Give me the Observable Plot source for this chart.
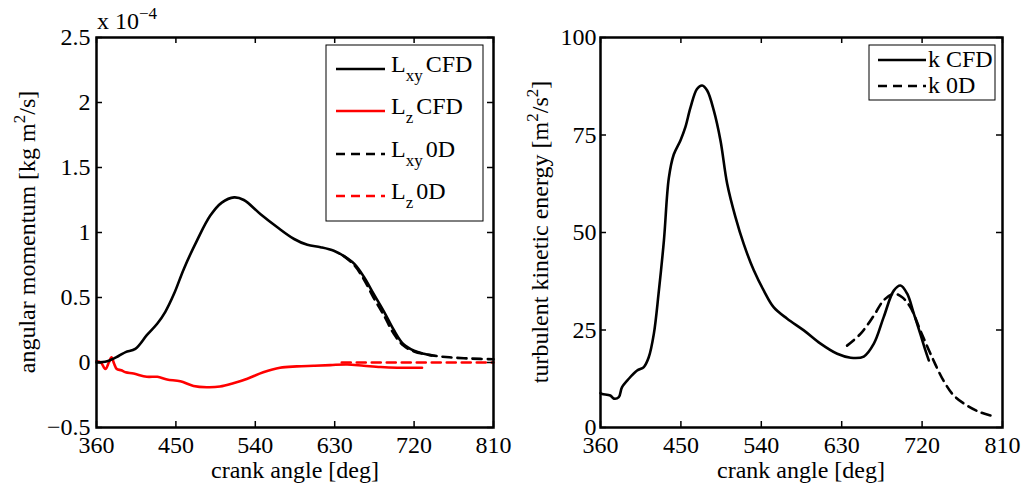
<!DOCTYPE html>
<html><head><meta charset="utf-8">
<script src="https://cdn.jsdelivr.net/npm/d3@7"></script>
<script src="https://cdn.jsdelivr.net/npm/@observablehq/plot@0.6"></script>
<style>
html,body{margin:0;padding:0;background:#fff;}
#wrap{position:relative;width:1026px;height:489px;overflow:hidden;background:#fff;}
#wrap > svg{position:absolute;top:0;}
</style></head><body><div id="wrap"></div>
<script>
// ---------- data (left panel values in units of 1e-4 kg m^2/s) ----------
const lxyCfdAngle = [360, 372, 385, 393, 404, 417, 429, 438, 448, 459, 474, 489, 502, 516, 527, 546, 565, 584, 599, 614, 629, 640, 652, 663, 674, 686, 697, 708, 720, 731, 740];
const lxyCfdValue = [0, 0.01, 0.05, 0.08, 0.105, 0.21, 0.30, 0.39, 0.53, 0.72, 0.94, 1.13, 1.23, 1.27, 1.25, 1.14, 1.04, 0.95, 0.905, 0.887, 0.86, 0.82, 0.76, 0.66, 0.53, 0.39, 0.25, 0.14, 0.09, 0.067, 0.055];
const lzCfdAngle = [360, 365, 370, 374, 377, 380, 383, 388, 393, 402, 417, 429, 440, 455, 470, 485, 500, 515, 531, 549, 568, 587, 606, 625, 644, 663, 682, 701, 729];
const lzCfdValue = [0.01, 0.0, -0.05, 0.0, 0.04, -0.01, -0.05, -0.06, -0.075, -0.085, -0.11, -0.11, -0.13, -0.145, -0.18, -0.19, -0.185, -0.16, -0.125, -0.075, -0.04, -0.03, -0.025, -0.02, -0.015, -0.025, -0.035, -0.04, -0.04];
const lxy0dAngle = [640, 652, 663, 674, 686, 697, 708, 720, 740, 760, 785, 810];
const lxy0dValue = [0.82, 0.75, 0.64, 0.50, 0.36, 0.22, 0.13, 0.085, 0.055, 0.04, 0.03, 0.025];
const lz0dAngle = [638, 810];
const lz0dValue = [0, 0];

// ---------- data (right panel, m^2/s^2) ----------
const kCfdAngle = [360, 362, 371, 375, 380.5, 384, 391.7, 401, 408.5, 414, 419.7, 425, 431, 436.5, 442, 449.5, 455, 460.7, 468, 473.8, 479.4, 486.8, 494.3, 501.8, 511, 520.4, 531.6, 542.8, 554, 569, 587.6, 606.3, 625, 640, 654.7, 666, 677, 688.3, 695.8, 703.3, 710.7, 718, 723.8, 727.5];
const kCfdValue = [8.8, 8.6, 8.2, 7.4, 7.8, 10.3, 12.5, 14.6, 15.5, 18, 24, 34.3, 48, 64, 70, 73.6, 77, 82, 86.8, 87.7, 86.4, 81.3, 73.6, 62.5, 54, 47, 40.3, 35.1, 30.8, 27.9, 24.9, 21.5, 18.9, 17.9, 18.2, 21.5, 28.3, 35.1, 36.4, 34.3, 29.2, 24, 19.7, 17.2];
const k0dAngle = [636, 651, 666, 677, 688.3, 697.7, 707, 718, 729.4, 744, 755.5, 770.5, 785, 798];
const k0dValue = [21, 24, 28.7, 32.6, 34.3, 33.4, 30.8, 24.9, 18.9, 12, 8.2, 5.6, 3.9, 3.0];

// ---------- ticks ----------
const xTicks = [360, 450, 540, 630, 720, 810];
const yTicksLeft = [-0.5, 0, 0.5, 1, 1.5, 2, 2.5];
const yTicksRight = [0, 25, 50, 75, 100];

const FONT = '"Liberation Serif", "Times New Roman", serif';
const FS = 24, FS_SMALL = 17;
const H = 489, MT = 37, MB = 62;
const innerH = H - MT - MB;

const rows = (xs, ys) => xs.map((x, i) => ({x, y: ys[i]}));
const fmt = d => (d < 0 ? "\u2212" : "") + Math.abs(d);

function panel({width, marginLeft, marginRight, yDomain, yTicks, series, tickPad}) {
  const innerW = width - marginLeft - marginRight;
  const marks = [];
  for (const s of series) {
    marks.push(Plot.line(rows(s.x, s.y), {x: "x", y: "y", stroke: s.color, strokeWidth: 2.6,
      strokeDasharray: s.dash ? "9,6" : null, curve: "catmull-rom"}));
  }
  marks.push(
    Plot.tickX(xTicks, {x: d => d, insetTop: innerH - 6, stroke: "black", strokeWidth: 1.5}),
    Plot.tickX(xTicks, {x: d => d, insetBottom: innerH - 6, stroke: "black", strokeWidth: 1.5}),
    Plot.tickY(yTicks, {y: d => d, insetRight: innerW - 6, stroke: "black", strokeWidth: 1.5}),
    Plot.tickY(yTicks, {y: d => d, insetLeft: innerW - 6, stroke: "black", strokeWidth: 1.5}),
    Plot.frame({stroke: "black", strokeWidth: 2.5}),
    Plot.axisX(xTicks, {tickSize: 0, tickPadding: 8, label: null, tickFormat: d => String(d)}),
    Plot.axisY(yTicks, {tickSize: 0, tickPadding: tickPad, label: null, tickFormat: fmt})
  );
  return Plot.plot({
    width, height: H, marginLeft, marginRight, marginTop: MT, marginBottom: MB,
    x: {domain: [360, 810]}, y: {domain: yDomain},
    style: {fontFamily: FONT, fontSize: FS + "px", background: "white", color: "black", overflow: "visible"},
    marks
  });
}

const wrap = document.getElementById("wrap");

// ---------- left ----------
const left = panel({
  width: 520, marginLeft: 96, marginRight: 27, yDomain: [-0.5, 2.5], yTicks: yTicksLeft, tickPad: 6,
  series: [
    {x: lz0dAngle, y: lz0dValue, color: "#ff0000", dash: true},
    {x: lxy0dAngle, y: lxy0dValue, color: "black", dash: true},
    {x: lzCfdAngle, y: lzCfdValue, color: "#ff0000"},
    {x: lxyCfdAngle, y: lxyCfdValue, color: "black"}
  ]
});
left.style.left = "0px";
wrap.appendChild(left);

// ---------- right ----------
const right = panel({
  width: 506, marginLeft: 80, marginRight: 24, yDomain: [0, 100], yTicks: yTicksRight, tickPad: 4,
  series: [
    {x: k0dAngle, y: k0dValue, color: "black", dash: true},
    {x: kCfdAngle, y: kCfdValue, color: "black"}
  ]
});
right.style.left = "520px";
wrap.appendChild(right);

// ---------- text annotations ----------
function richText(g, x, y, parts, opts = {}) {
  const t = g.append("text").attr("x", x).attr("y", y)
    .attr("font-family", FONT).attr("font-size", FS).attr("fill", "black")
    .attr("text-anchor", opts.anchor || "start");
  if (opts.rotate) t.attr("transform", `rotate(${opts.rotate},${x},${y})`);
  let shift = 0;
  for (const p of parts) {
    const s = t.append("tspan").text(p.t);
    const target = p.sup ? -10 : p.sub ? 9 : 0;
    if (target !== shift) { s.attr("dy", target - shift); shift = target; }
    if (p.sup || p.sub) s.attr("font-size", FS_SMALL);
    if (p.dx) s.attr("dx", p.dx);
  }
  return t;
}

const gl = d3.select(left).append("g");
richText(gl, 295, 478, [{t: "crank angle [deg]"}], {anchor: "middle"});
richText(gl, 35, 232, [{t: "angular momentum [kg m"}, {t: "2", sup: true}, {t: "/s]"}], {anchor: "middle", rotate: -90});
richText(gl, 97, 29, [{t: "x 10"}, {t: "\u22124", sup: true}]);

const gr = d3.select(right).append("g");
richText(gr, 281, 478, [{t: "crank angle [deg]"}], {anchor: "middle"});
richText(gr, 28, 232, [{t: "turbulent kinetic energy [m"}, {t: "2", sup: true}, {t: "/s"}, {t: "2", sup: true}, {t: "]"}], {anchor: "middle", rotate: -90});

// ---------- legends ----------
const legendLeft = [
  {name: "L", sub: "xy", suffix: "CFD", color: "black", dash: false, y: 69},
  {name: "L", sub: "z", suffix: "CFD", color: "#ff0000", dash: false, y: 111},
  {name: "L", sub: "xy", suffix: "0D", color: "black", dash: true, y: 154},
  {name: "L", sub: "z", suffix: "0D", color: "#ff0000", dash: true, y: 196}
];
gl.append("rect").attr("x", 326).attr("y", 45).attr("width", 157).attr("height", 176)
  .attr("fill", "white").attr("stroke", "black").attr("stroke-width", 1);
for (const e of legendLeft) {
  gl.append("line").attr("x1", 336).attr("x2", 385).attr("y1", e.y).attr("y2", e.y)
    .attr("stroke", e.color).attr("stroke-width", 2.6).attr("stroke-dasharray", e.dash ? "9,6" : null);
  richText(gl, 391, e.y + 3, [{t: e.name}, {t: e.sub, sub: true}, {t: e.suffix, dx: 3}]);
}

const legendRight = [
  {label: "k CFD", dash: false, y: 60},
  {label: "k 0D", dash: true, y: 86}
];
gr.append("rect").attr("x", 349).attr("y", 45).attr("width", 126).attr("height", 55)
  .attr("fill", "white").attr("stroke", "black").attr("stroke-width", 1);
for (const e of legendRight) {
  gr.append("line").attr("x1", 358).attr("x2", 406).attr("y1", e.y).attr("y2", e.y)
    .attr("stroke", "black").attr("stroke-width", 2.6).attr("stroke-dasharray", e.dash ? "9,6" : null);
  richText(gr, 408, e.y + 7, [{t: e.label}]);
}
</script></body></html>
